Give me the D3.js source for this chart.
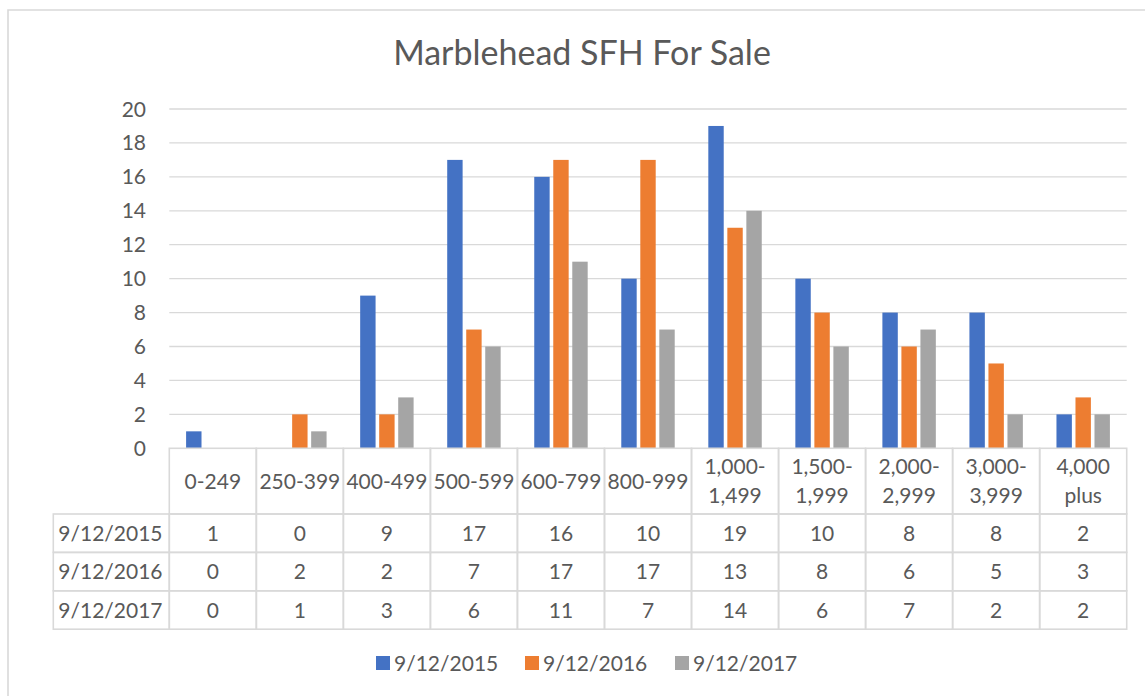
<!DOCTYPE html>
<html lang="en">
<head>
<meta charset="UTF-8">
<title>Marblehead SFH For Sale</title>
<script src="https://d3js.org/d3.v7.min.js"></script>
<style>
    body { margin: 0; background: #fff; font-family: Lato, 'Open Sans', sans-serif; }
    svg { display: block; }
    .grid line { stroke: #d9d9d9; stroke-width: 1.3; }
    .tick-label { font-size: 21px; fill: #595959; }
    .cell { stroke: #d9d9d9; stroke-width: 1.6; fill: none; }
    .tbl-text { font-size: 21px; fill: #595959; }
    .title { font-size: 34px; fill: #595959; }
</style>
</head>
<body>
<svg width="1145" height="696"></svg>
<script>
const categories = ["0-249", "250-399", "400-499", "500-599", "600-799", "800-999",
    "1,000-\n1,499", "1,500-\n1,999", "2,000-\n2,999", "3,000-\n3,999", "4,000\nplus"];
const seriesNames = ["9/12/2015", "9/12/2016", "9/12/2017"];
const values2015 = [1, 0, 9, 17, 16, 10, 19, 10, 8, 8, 2];
const values2016 = [0, 2, 2, 7, 17, 17, 13, 8, 6, 5, 3];
const values2017 = [0, 1, 3, 6, 11, 7, 14, 6, 7, 2, 2];
const yTicks = [0, 2, 4, 6, 8, 10, 12, 14, 16, 18, 20];
const colors = ["#4472C4", "#ED7D31", "#A5A5A5"];

const seriesValues = [values2015, values2016, values2017];

const svg = d3.select("svg");

// outer chart border (left + top visible)
svg.append("path")
    .attr("d", "M8,700 L8,10 L1150,10")
    .attr("fill", "none")
    .attr("stroke", "#d9d9d9")
    .attr("stroke-width", 1.6);

svg.append("text")
    .attr("class", "title")
    .attr("x", 582)
    .attr("y", 65)
    .attr("text-anchor", "middle")
    .text("Marblehead SFH For Sale");

const plotLeft = 169.3, plotRight = 1126.7;
const x0 = d3.scaleBand().domain(categories).range([plotLeft, plotRight]);
const bw = x0.bandwidth();
const x1 = d3.scaleBand().domain(seriesNames).range([16.8, bw - 16.8]).paddingInner(0.19);
const y = d3.scaleLinear().domain([0, 20]).range([448.3, 109]);

// gridlines
svg.append("g").attr("class", "grid")
    .selectAll("line")
    .data(yTicks.filter(d => d > 0))
    .join("line")
    .attr("x1", plotLeft).attr("x2", plotRight)
    .attr("y1", d => y(d)).attr("y2", d => y(d));

// y tick labels
svg.append("g")
    .selectAll("text")
    .data(yTicks)
    .join("text")
    .attr("class", "tick-label")
    .attr("x", 146)
    .attr("y", d => y(d))
    .attr("dy", "0.36em")
    .attr("text-anchor", "end")
    .text(d => d);

// bars
const groups = svg.append("g")
    .selectAll("g")
    .data(seriesNames)
    .join("g")
    .attr("fill", (d, i) => colors[i]);

groups.selectAll("rect")
    .data((s, si) => categories.map((c, ci) => ({ c, s, v: seriesValues[si][ci] })))
    .join("rect")
    .attr("x", d => x0(d.c) + x1(d.s))
    .attr("width", x1.bandwidth())
    .attr("y", d => y(d.v))
    .attr("height", d => y(0) - y(d.v));

// data table
const headTop = 448.3, headBottom = 514;
const rowH = 38.4;
const labelLeft = 53.3;
const tbl = svg.append("g");

// header row cells
categories.forEach(c => {
    tbl.append("rect").attr("class", "cell")
        .attr("x", x0(c)).attr("y", headTop)
        .attr("width", bw).attr("height", headBottom - headTop);
    const lines = c.split("\n");
    const cy = (headTop + headBottom) / 2;
    const lh = 28.5;
    lines.forEach((ln, i) => {
        tbl.append("text").attr("class", "tbl-text")
            .attr("x", x0(c) + bw / 2)
            .attr("y", cy + (i - (lines.length - 1) / 2) * lh)
            .attr("dy", "0.36em")
            .attr("text-anchor", "middle")
            .text(ln);
    });
});

seriesNames.forEach((s, si) => {
    const top = headBottom + si * rowH;
    tbl.append("rect").attr("class", "cell")
        .attr("x", labelLeft).attr("y", top)
        .attr("width", plotLeft - labelLeft).attr("height", rowH);
    tbl.append("text").attr("class", "tbl-text")
        .attr("x", labelLeft + 5)
        .attr("y", top + rowH / 2)
        .attr("dy", "0.36em")
        .text(s);
    categories.forEach((c, ci) => {
        tbl.append("rect").attr("class", "cell")
            .attr("x", x0(c)).attr("y", top)
            .attr("width", bw).attr("height", rowH);
        tbl.append("text").attr("class", "tbl-text")
            .attr("x", x0(c) + bw / 2)
            .attr("y", top + rowH / 2)
            .attr("dy", "0.36em")
            .attr("text-anchor", "middle")
            .text(seriesValues[si][ci]);
    });
});

// legend
const legendX = [376, 525, 675];
const legend = svg.append("g");
seriesNames.forEach((s, i) => {
    legend.append("rect")
        .attr("x", legendX[i]).attr("y", 656)
        .attr("width", 14).attr("height", 14)
        .attr("fill", colors[i]);
    legend.append("text").attr("class", "tbl-text")
        .attr("x", legendX[i] + 18)
        .attr("y", 663)
        .attr("dy", "0.36em")
        .text(s);
});
</script>
</body>
</html>
